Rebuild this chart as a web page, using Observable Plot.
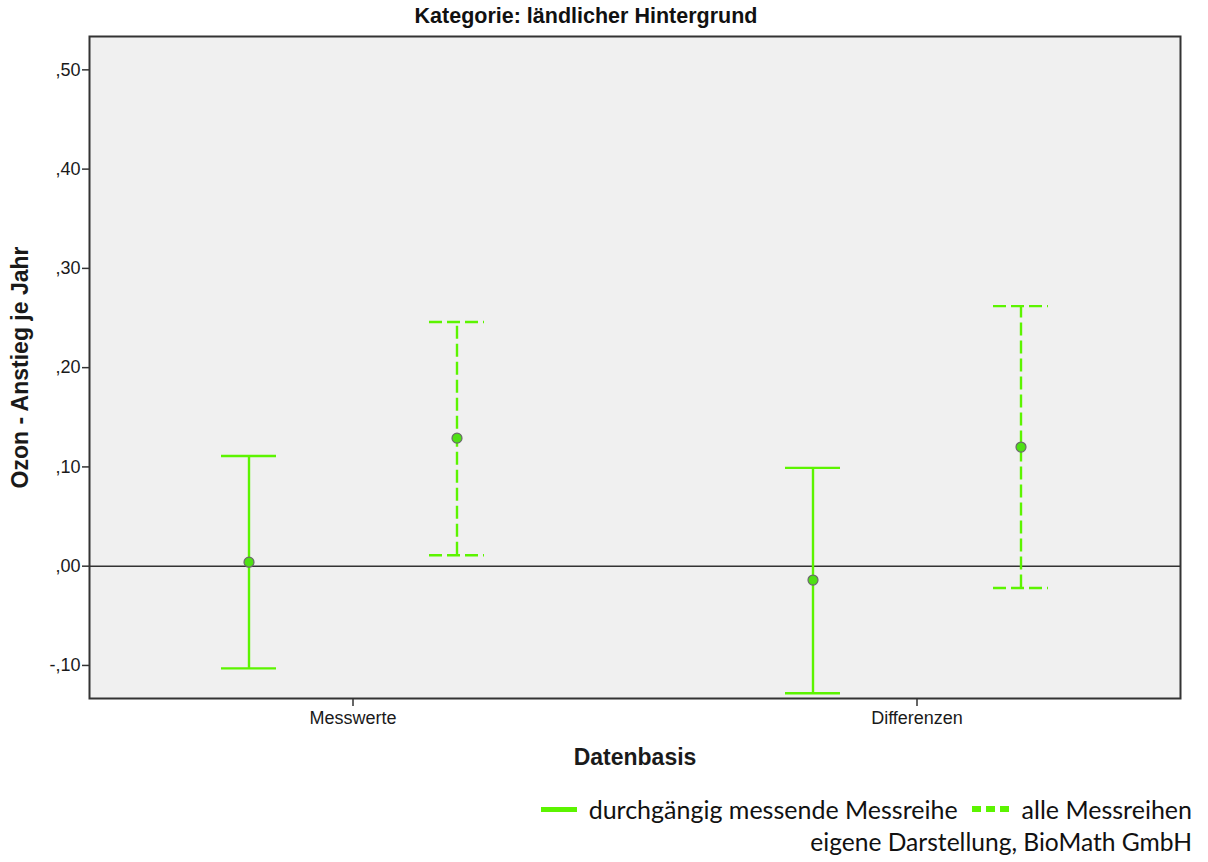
<!DOCTYPE html>
<html>
<head>
<meta charset="utf-8">
<script src="https://cdn.jsdelivr.net/npm/d3@7"></script>
<script src="https://cdn.jsdelivr.net/npm/@observablehq/plot@0.6"></script>
<style>
  body { margin: 0; background: #fff; font-family: "Liberation Sans", Arial, sans-serif; }
  #wrap { position: relative; width: 1208px; height: 862px; }
  #title { position: absolute; left: 0; width: 1172px; top: 3px; text-align: center; font-weight: bold; font-size: 21.5px; color: #111; line-height: 26px; }
  #chart { position: absolute; left: 0; top: 0; }
  #legend { position: absolute; right: 16px; top: 793px; font-family: Lato, "Open Sans", sans-serif; font-size: 25px; line-height: 32px; color: #111; display: flex; align-items: center; }
  #caption { position: absolute; right: 16px; top: 826px; font-family: Lato, "Open Sans", sans-serif; font-size: 24.6px; line-height: 32px; color: #111; }
  .sw { display: inline-block; width: 36px; height: 0; margin-right: 12px; }
  g[aria-label="y-axis label"] text, g[aria-label="x-axis label"] text { font-weight: bold; font-size: 23px; }
</style>
</head>
<body>
<div id="wrap">
  <div id="chart"></div>
  <div id="title"></div>
  <div id="legend"></div>
  <div id="caption"></div>
</div>
<script>
const titleText = "Kategorie: ländlicher Hintergrund";
const categories = ["Messwerte", "Differenzen"];
const seriesNames = ["durchgängig messende Messreihe", "alle Messreihen"];
// series 0: durchgängig messende Messreihe (solid)
const meanSolid = [0.004, -0.014];
const lowSolid  = [-0.103, -0.128];
const highSolid = [0.111, 0.099];
// series 1: alle Messreihen (dashed)
const meanDashed = [0.129, 0.120];
const lowDashed  = [0.011, -0.022];
const highDashed = [0.246, 0.262];
const yTicks = [-0.1, 0, 0.1, 0.2, 0.3, 0.4, 0.5];
const yLabel = "Ozon - Anstieg je Jahr";
const xLabel = "Datenbasis";
const caption = "eigene Darstellung, BioMath GmbH";

const green = "#5cf400";
const dodge = 104;

const solid = categories.map((c, i) => ({cat: c, mean: meanSolid[i], lo: lowSolid[i], hi: highSolid[i]}));
const dashed = categories.map((c, i) => ({cat: c, mean: meanDashed[i], lo: lowDashed[i], hi: highDashed[i]}));

const fmt = d => {
  const s = d3.format(".2f")(Math.abs(d)).replace(/^0\./, ",");
  return (d < 0 ? "-" : "") + s;
};

const bars = (data, dx, dash) => [
  Plot.ruleX(data, {x: "cat", y1: "lo", y2: "hi", dx, stroke: green, strokeWidth: 2.4, strokeDasharray: dash}),
  Plot.tickY(data, {x: "cat", y: "hi", dx, stroke: green, strokeWidth: 2.4, strokeDasharray: dash}),
  Plot.tickY(data, {x: "cat", y: "lo", dx, stroke: green, strokeWidth: 2.4, strokeDasharray: dash}),
  Plot.dot(data, {x: "cat", y: "mean", dx, r: 5, fill: "#4ee014", stroke: "#6a6a6a", strokeWidth: 1.2})
];

const chart = Plot.plot({
  width: 1208,
  height: 780,
  marginTop: 36,
  marginBottom: 82,
  marginLeft: 89,
  marginRight: 28,
  style: {fontFamily: "'Liberation Sans', Arial, sans-serif", fontSize: "18px", color: "#1a1a1a", background: "transparent"},
  x: {type: "band", domain: categories, paddingInner: 0.9025, paddingOuter: 0.4184, label: null},
  y: {domain: [-0.1333, 0.5336], label: null},
  marks: [
    Plot.frame({fill: "#f0f0f0", stroke: "none"}),
    Plot.ruleY([0], {stroke: "#333", strokeWidth: 1.4}),
    ...bars(solid, -dodge, null),
    ...bars(dashed, dodge, "13,5"),
    Plot.frame({stroke: "#333", strokeWidth: 2}),
    Plot.axisY({ticks: yTicks, tickFormat: fmt, tickSize: 7, tickPadding: 2, stroke: "#333", strokeWidth: 1.5, fontSize: 18,
                label: yLabel, labelAnchor: "center", labelOffset: 78, labelArrow: "none"}),
    Plot.axisX({tickSize: 8, tickPadding: 5, fontSize: 18, stroke: "#333", strokeWidth: 1.5,
                label: xLabel, labelAnchor: "center", labelOffset: 66, labelArrow: "none"})
  ]
});
document.getElementById("chart").appendChild(chart);
document.getElementById("title").textContent = titleText;

const legend = document.getElementById("legend");
legend.innerHTML =
  `<span class="sw" style="border-top:5px solid ${green}"></span><span>${seriesNames[0]}</span>` +
  `<span class="sw" style="margin-left:14px;height:6px;width:38px;background:repeating-linear-gradient(90deg, ${green} 0 9px, transparent 9px 14px)"></span><span>${seriesNames[1]}</span>`;
document.getElementById("caption").textContent = caption;
</script>
</body>
</html>
